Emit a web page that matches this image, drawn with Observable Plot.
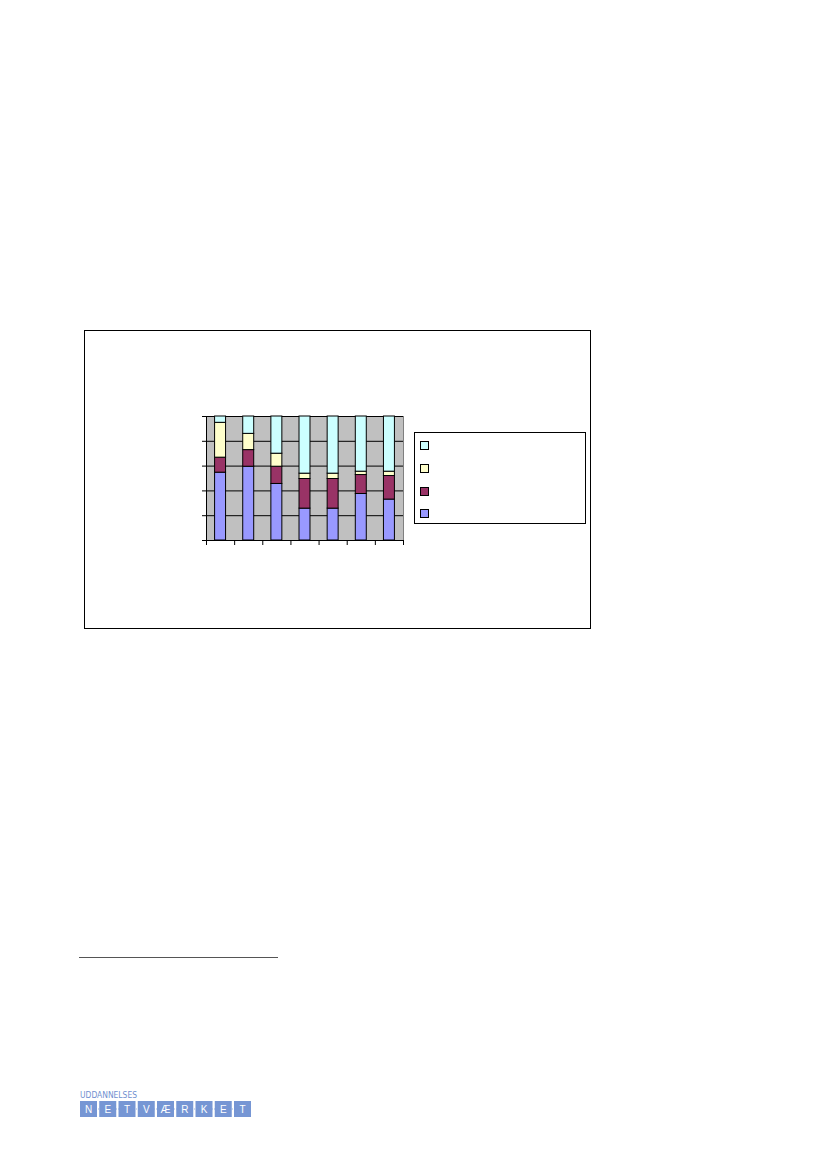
<!DOCTYPE html>
<html>
<head>
<meta charset="utf-8">
<script src="https://cdn.jsdelivr.net/npm/d3@7"></script>
<script src="https://cdn.jsdelivr.net/npm/@observablehq/plot@0.6"></script>
<style>
  html, body { margin: 0; padding: 0; background: #fff; }
  body { width: 827px; height: 1169px; position: relative; overflow: hidden; font-family: "Liberation Sans", Arial, sans-serif; }
  #box { position: absolute; left: 84px; top: 330px; width: 505px; height: 297px; border: 1px solid #000; box-sizing: content-box; }
  #chart { position: absolute; left: 190px; top: 405px; }
  #legend { position: absolute; left: 414px; top: 432px; width: 170px; height: 90px; border: 1px solid #000; background: #fff; }
  .sw { position: absolute; left: 5px; width: 7px; height: 7px; border: 1px solid #000; }
  #rule { position: absolute; left: 79px; top: 957px; width: 199px; height: 1px; background: #555; }
  #logo { position: absolute; left: 80px; top: 1088px; }
</style>
</head>
<body>
<div id="box"></div>
<div id="chart"></div>
<div id="legend"></div>
<div id="rule"></div>
<div id="logo"></div>
<script>
// ---- data (percent of each bar) ----
const categories = ["1", "2", "3", "4", "5", "6", "7"];
const seriesNames = ["Serie 1", "Serie 2", "Serie 3", "Serie 4"];
const seriesColors = ["#9999ff", "#993366", "#ffffcc", "#ccffff"];
const serie1 = [54.7, 59.5, 45.6, 25.7, 25.7, 37.5, 33.0];
const serie2 = [12.1, 13.4, 13.9, 23.9, 23.9, 15.3, 19.0];
const serie3 = [28.1, 13.1, 10.5, 4.3, 4.3, 2.7, 3.5];
const serie4 = [5.1, 14.0, 30.0, 46.1, 46.1, 44.5, 44.5];
const yTicks = [0, 20, 40, 60, 80, 100];
const logoLetters = ["N", "E", "T", "V", "Æ", "R", "K", "E", "T"];

const seriesValues = [serie1, serie2, serie3, serie4];
const rows = [];
seriesNames.forEach((s, k) => {
  categories.forEach((c, i) => rows.push({ i, cat: c, series: s, value: seriesValues[k][i] }));
});

const chart = Plot.plot({
  width: 225,
  height: 150,
  marginLeft: 16,
  marginRight: 12,
  marginTop: 11,
  marginBottom: 15,
  x: { type: "linear", domain: [0, categories.length], axis: null, label: null },
  y: { domain: [0, 100], axis: null, label: null },
  color: { domain: seriesNames, range: seriesColors },
  marks: [
    Plot.frame({ fill: "#c0c0c0", stroke: null }),
    Plot.ruleX([categories.length], { stroke: "#808080", strokeWidth: 1 }),
    Plot.ruleY(yTicks.slice(1), { stroke: "#000", strokeWidth: 1 }),
    Plot.rectY(rows, Plot.stackY({
      x1: d => d.i + 0.305,
      x2: d => d.i + 0.695,
      y: "value",
      fill: "series",
      stroke: "#000",
      strokeWidth: 1
    })),
    Plot.ruleX([0], { stroke: "#000", strokeWidth: 1 }),
    Plot.ruleY([0], { stroke: "#000", strokeWidth: 1 }),
    Plot.axisY({ ticks: yTicks, tickSize: 4, tickFormat: () => "", stroke: "#000", label: null }),
    Plot.axisX({ ticks: d3.range(categories.length + 1), tickSize: 5, tickFormat: () => "", stroke: "#000", label: null })
  ],
  style: { background: "transparent", overflow: "visible" }
});
document.getElementById("chart").appendChild(chart);

// legend (labels are empty in the reference)
const legend = document.getElementById("legend");
const swTops = [8, 31, 54, 76];
[3, 2, 1, 0].forEach((k, j) => {
  const d = document.createElement("div");
  d.className = "sw";
  d.style.top = swTops[j] + "px";
  d.style.background = seriesColors[k];
  legend.appendChild(d);
});

// logo
const logo = d3.select("#logo").append("svg").attr("width", 175).attr("height", 32);
logo.append("text").attr("x", 0).attr("y", 10).attr("fill", "#6f8fcf")
  .attr("font-family", "Liberation Sans Narrow, DejaVu Sans Condensed, Arial")
  .attr("font-size", 9).attr("textLength", 57).attr("lengthAdjust", "spacingAndGlyphs")
  .text("UDDANNELSES");
const bw = 17, gap = 2.25;
logo.append("line").attr("x1", 0).attr("x2", 171).attr("y1", 21).attr("y2", 21)
  .attr("stroke", "#9fb6e0").attr("stroke-width", 1).attr("stroke-dasharray", "1,1");
logoLetters.forEach((L, i) => {
  const x = i * (bw + gap);
  logo.append("rect").attr("x", x).attr("y", 13).attr("width", bw).attr("height", 16).attr("fill", "#7696d4");
  logo.append("text").attr("x", x + bw / 2).attr("y", 25).attr("text-anchor", "middle")
    .attr("fill", "#fff").attr("font-family", "Liberation Sans, Arial").attr("font-size", 10).text(L);
});
</script>
</body>
</html>
